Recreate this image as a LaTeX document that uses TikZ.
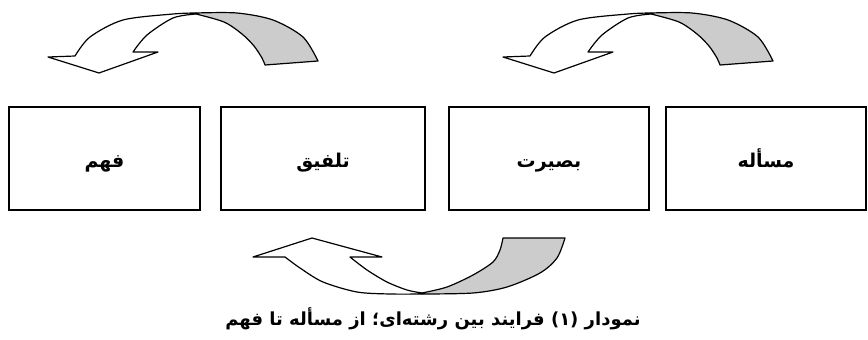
\documentclass[tikz,border=0pt]{standalone}
\usepackage{fontspec}
\usepackage{tikz}
\newfontfamily\arabicfont[Script=Arabic]{DejaVu Sans}
\TeXXeTstate=1
\definecolor{backgray}{RGB}{204,204,204}
\tikzset{
  stage/.style={draw, line width=1.2pt, minimum width=200pt, minimum height=103pt,
    text height=21pt, text depth=3pt,
    font=\arabicfont\bfseries\fontsize{19}{22}\selectfont},
  band/.style={draw=black, line width=1.2pt, line join=round},
}
\newcommand{\bentarrow}[2]{%
  % front of the band with its head
  \filldraw[band, fill=white, shift={(#1,#2)}]
    plot[smooth] coordinates {(0,0) (-23,1) (-73,7) (-106,24) (-121,43)}
    -- (-148,44) -- (-97,60) -- (-38,39) -- (-63,39)
    -- plot[smooth] coordinates {(-63,39) (-49,22) (-23,5) (0,1)} -- cycle;
  % back of the band
  \filldraw[band, fill=backgray, shift={(#1,#2)}]
    plot[smooth] coordinates {(0,0) (41,0) (77,7) (107,24) (122,48)}
    -- (69,52)
    -- plot[smooth] coordinates {(69,52) (66,45) (58,33) (46,21) (28,9) (0,1)} -- cycle;
}

\begin{document}
\begin{tikzpicture}[x=1pt,y=-1pt]
  \useasboundingbox (0,0) rectangle (868,340);
  \bentarrow{196}{13}
  \bentarrow{651}{13}
  \node[stage, minimum width=191pt] (fahm) at (104.5,158.5) {\beginR فهم\endR};
  \node[stage, minimum width=204pt] (talfiq) at (323,158.5) {\beginR تلفیق\endR};
  \node[stage] (basirat) at (549,158.5) {\beginR بصیرت\endR};
  \node[stage] (masale) at (766,158.5) {\beginR مسأله\endR};
  % lower arrow, turned up
  \filldraw[band, fill=white]
    plot[smooth] coordinates {(422,294) (390,294) (357,292) (323,282) (300,268) (285,257)}
    -- (253,257) -- (312,238) -- (382,257) -- (350,257)
    -- plot[smooth] coordinates {(350,257) (367,270) (387,282) (407,290) (422,293)} -- cycle;
  \filldraw[band, fill=backgray]
    plot[smooth] coordinates {(422,294) (473,293) (507,287) (540,273) (557,258) (565,238)}
    -- (503,238)
    -- plot[smooth] coordinates {(503,238) (500,250) (493,262) (473,275) (447,287) (422,293)} -- cycle;
  \node[font=\arabicfont\bfseries\fontsize{18}{21}\selectfont] (caption) at (433,319)
    {\beginR نمودار (۱) فرایند بین رشته‌ای؛ از مسأله تا فهم\endR};
\end{tikzpicture}
\end{document}
